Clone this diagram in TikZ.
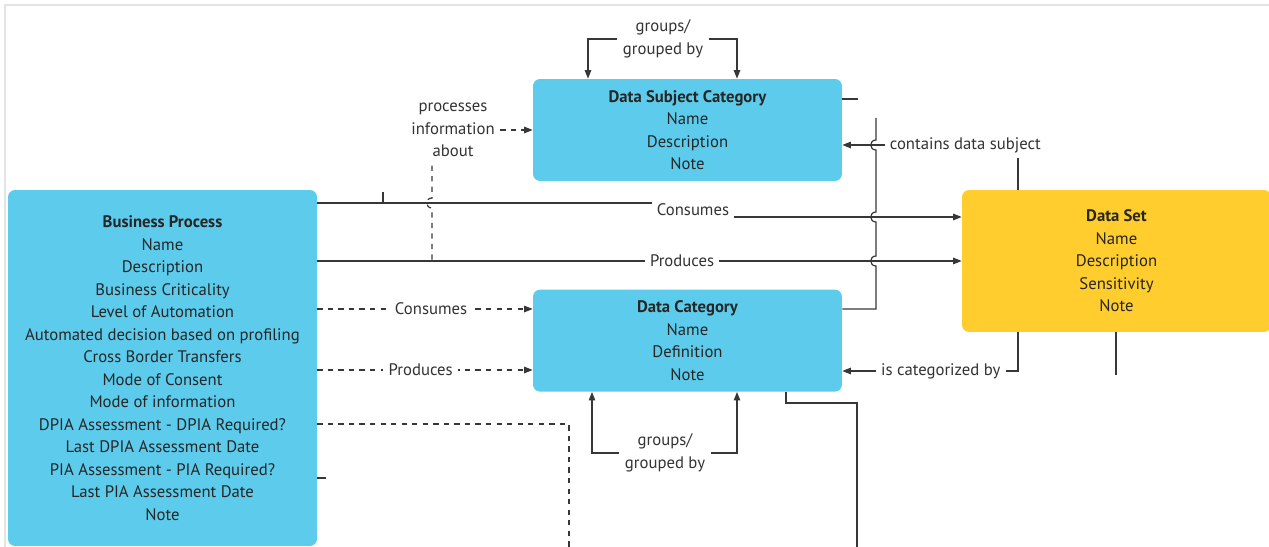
\documentclass[tikz,border=0pt]{standalone}
\usepackage{fontspec}
\setmainfont{PT Sans}
\usetikzlibrary{arrows.meta, positioning}
\definecolor{boxblue}{RGB}{93,204,236}
\definecolor{boxyellow}{RGB}{255,205,45}
\definecolor{linegray}{RGB}{55,55,55}
\definecolor{framegray}{RGB}{222,228,232}
\tikzstyle{entity} = [rectangle, fill=boxblue, text=black!85, align=center, rounded corners=4pt, minimum width=6.18cm, minimum height=2.04cm, inner sep=0pt, font=\fontsize{9.5}{12.8}\selectfont]
\tikzstyle{rel} = [line width=0.7pt, draw=linegray]
\tikzstyle{arrow} = [rel, -{Triangle[length=1.7mm,width=1.3mm]}]
\tikzstyle{dasharrow} = [arrow, dashed]
\tikzstyle{lbl} = [fill=white, text=black!80, align=center, inner sep=3pt, font=\fontsize{9.5}{12.8}\selectfont]

\begin{document}
\begin{tikzpicture}[x=0.02cm, y=-0.02cm]
        \clip (0,0) rectangle (1269,547);
        \draw [framegray, line width=1.2pt] (5,547) -- (5,5) -- (1269,5);

        % Entities
        \node (bp) [entity, minimum height=7.12cm] at (162.5,368) {\textbf{Business Process}\\Name\\Description\\Business Criticality\\Level of Automation\\Automated decision based on profiling\\Cross Border Transfers\\Mode of Consent\\Mode of information\\DPIA Assessment - DPIA Required?\\Last DPIA Assessment Date\\PIA Assessment - PIA Required?\\Last PIA Assessment Date\\Note};
        \node (dsc) [entity] at (687.5,130) {\textbf{Data Subject Category}\\Name\\Description\\Note};
        \node (dc) [entity, below=2.16cm of dsc] {\textbf{Data Category}\\Name\\Definition\\Note};
        \node (ds) [entity, fill=boxyellow, minimum height=2.84cm] at (1116.5,261) {\textbf{Data Set}\\Name\\Description\\Sensitivity\\Note};

        % groups / grouped by
        \node (gtop) [lbl] at (663,39) {groups/\\grouped by};
        \draw [arrow] (gtop.west) -| (588,0 |- dsc.north);
        \draw [arrow] (gtop.east) -| (737,0 |- dsc.north);
        \node (gbot) [lbl] at (665,453) {groups/\\grouped by};
        \draw [arrow] (gbot.west) -| (592,0 |- dc.south);
        \draw [arrow] (gbot.east) -| (737,0 |- dc.south);

        % Business Process to Data Set
        \draw [rel] (330,203) -- (383,203) -- (383,192);
        \draw [arrow] (bp.east |- 0,203) -- (693,203) -- node[lbl] {Consumes} (693,217) -- (ds.west |- 0,217);
        \draw [arrow] (bp.east |- 0,261) -- node[lbl, pos=0.566] {Produces} (ds.west |- 0,261);

        % processes information about
        \node (proc) [lbl] at (453,130) {processes\\information\\about};
        \draw [rel, dashed] (bp.east |- 0,261) -- (432,261) -- (432,208) .. controls (425,208) and (425,198) .. (432,198) -- (432,0 |- proc.south);
        \draw [dasharrow] (proc.east) -- (dsc.west |- proc.east);

        % Business Process to Data Category
        \draw [dasharrow] (bp.east |- 0,309) -- node[lbl, pos=0.528] {Consumes} (dc.west |- 0,309);
        \draw [dasharrow] (bp.east |- 0,370) -- node[lbl, pos=0.48] {Produces} (dc.west |- 0,370);

        % Data Set to categories
        \draw [arrow] (1018,0 |- ds.north) -- (1018,145) -- node[lbl, pos=0.3] {contains data subject} (dsc.east |- 0,145);
        \draw [arrow] (1018,0 |- ds.south) -- (1018,371) -- node[lbl, pos=0.44] {is categorized by} (dc.east |- 0,371);

        % line with jumps
        \draw [rel] (dc.east |- 0,309) -- (876,309) -- (876,266) .. controls (869,266) and (869,256) .. (876,256) -- (876,222) .. controls (869,222) and (869,212) .. (876,212) -- (876,150) .. controls (869,150) and (869,140) .. (876,140) -- (876,118);

        % loose ends
        \draw [rel] (dsc.east |- 0,99) -- (858,99);
        \draw [rel] (786,0 |- dc.south) -- (786,403) -- (857,403) -- (857,547);
        \draw [rel, dashed] (bp.east |- 0,424) -- (569,424) -- (569,547);
        \draw [rel] (bp.east |- 0,478) -- (326,478);
        \draw [rel] (1116,0 |- ds.south) -- (1116,375);
\end{tikzpicture}
\end{document}
